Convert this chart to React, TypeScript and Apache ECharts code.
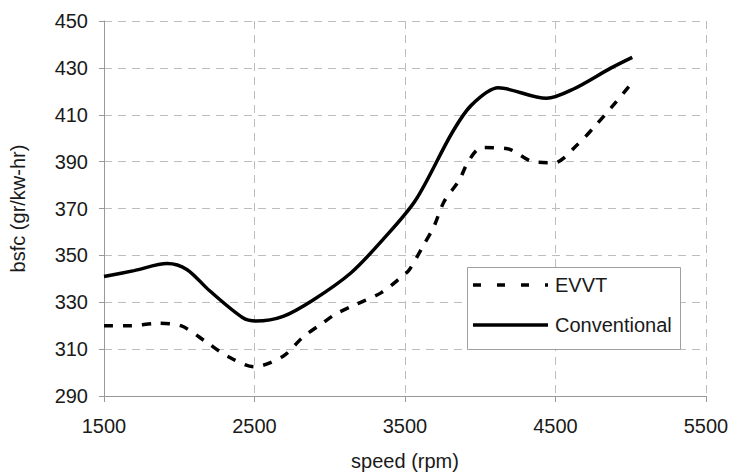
import React, { useEffect, useRef } from "react";
import * as echarts from "echarts";

const evvtSpeed = [1500, 1680, 1850, 2010, 2180, 2320, 2500, 2690, 2820, 2950, 3040, 3170, 3340, 3480, 3530, 3620, 3690, 3760, 3860, 3920, 4010, 4180, 4350, 4490, 4650, 4760, 4870, 5000];
const evvtBsfc = [320, 320, 321, 320, 313, 307, 302.5, 307, 315, 321, 325, 329, 334, 341, 344, 354, 362, 373, 382, 390, 396, 395.5, 390, 389.5, 397.5, 405, 413, 423];

const convSpeed = [1500, 1700, 1920, 2050, 2200, 2420, 2510, 2690, 2890, 3140, 3350, 3570, 3810, 3940, 4120, 4440, 4620, 4870, 5010];
const convBsfc = [341, 343.5, 346.5, 344, 335, 323.5, 322, 324, 331, 342.5, 356.5, 373.5, 402, 414, 421.5, 417, 421, 430, 434.5];

const seriesNames = ["EVVT", "Conventional"];
const xTicks = { min: 1500, max: 5500, interval: 1000 };
const yTicks = { min: 290, max: 450, interval: 20 };

export default function App() {
  const ref = useRef<HTMLDivElement>(null);
  useEffect(() => {
    if (!ref.current) return;
    const chart = echarts.init(ref.current, null, { renderer: "svg" });
    const font = "Liberation Sans, Arial, sans-serif";
    const textColor = "#1a1a1a";
    chart.setOption({
      animation: false,
      backgroundColor: "#ffffff",
      textStyle: { fontFamily: font },
      grid: { left: 100, right: 42, top: 21, bottom: 80, containLabel: false },
      graphic: [
        {
          type: "rect",
          shape: { x: 467.5, y: 267.5, width: 213, height: 82 },
          style: { fill: "#ffffff", stroke: "#a0a0a0", lineWidth: 1 },
          z: 10,
        },
        {
          type: "line",
          shape: { x1: 473, y1: 285, x2: 548, y2: 285 },
          style: { stroke: "#000000", lineWidth: 3.5, lineDash: [8, 16] },
          z: 11,
        },
        {
          type: "text",
          x: 555,
          y: 285,
          style: { text: seriesNames[0], fontSize: 20, fill: textColor, fontFamily: font, verticalAlign: "middle" },
          z: 11,
        },
        {
          type: "line",
          shape: { x1: 473, y1: 325, x2: 548, y2: 325 },
          style: { stroke: "#000000", lineWidth: 3.5 },
          z: 11,
        },
        {
          type: "text",
          x: 555,
          y: 325,
          style: { text: seriesNames[1], fontSize: 20, fill: textColor, fontFamily: font, verticalAlign: "middle" },
          z: 11,
        },
      ],
      xAxis: {
        type: "value",
        min: xTicks.min,
        max: xTicks.max,
        interval: xTicks.interval,
        name: "speed (rpm)",
        nameLocation: "middle",
        nameGap: 55,
        nameTextStyle: { fontSize: 20, color: textColor, fontFamily: font },
        axisLine: { show: true, lineStyle: { color: "#999999", width: 1 } },
        axisTick: { show: true, length: 6, lineStyle: { color: "#999999" } },
        axisLabel: { fontSize: 20, color: textColor, margin: 20, fontFamily: font, formatter: (v: number) => String(v) },
        splitLine: { show: true, lineStyle: { color: "#bdbdbd", type: [8, 6], width: 1 } },
      },
      yAxis: {
        type: "value",
        min: yTicks.min,
        max: yTicks.max,
        interval: yTicks.interval,
        name: "bsfc (gr/kw-hr)",
        nameLocation: "middle",
        nameGap: 76,
        nameRotate: 90,
        nameTextStyle: { fontSize: 20, color: textColor, fontFamily: font },
        axisLine: { show: true, lineStyle: { color: "#999999", width: 1 } },
        axisTick: { show: true, length: 5, lineStyle: { color: "#999999" } },
        axisLabel: { fontSize: 20, color: textColor, margin: 16, fontFamily: font, formatter: (v: number) => String(v) },
        splitLine: { show: true, lineStyle: { color: "#bdbdbd", type: [8, 6], width: 1 } },
      },
      series: [
        {
          name: seriesNames[0],
          type: "line",
          smooth: 0.3,
          symbol: "none",
          data: evvtSpeed.map((s, i) => [s, evvtBsfc[i]]),
          lineStyle: { color: "#000000", width: 3.5, type: [9, 10] },
          itemStyle: { color: "#000000" },
        },
        {
          name: seriesNames[1],
          type: "line",
          smooth: 0.3,
          symbol: "none",
          data: convSpeed.map((s, i) => [s, convBsfc[i]]),
          lineStyle: { color: "#000000", width: 3.5, type: "solid" },
          itemStyle: { color: "#000000" },
        },
      ],
    });
    return () => chart.dispose();
  }, []);
  return <div ref={ref} style={{ width: 748, height: 476, position: "absolute", left: 0, top: 0 }} />;
}
